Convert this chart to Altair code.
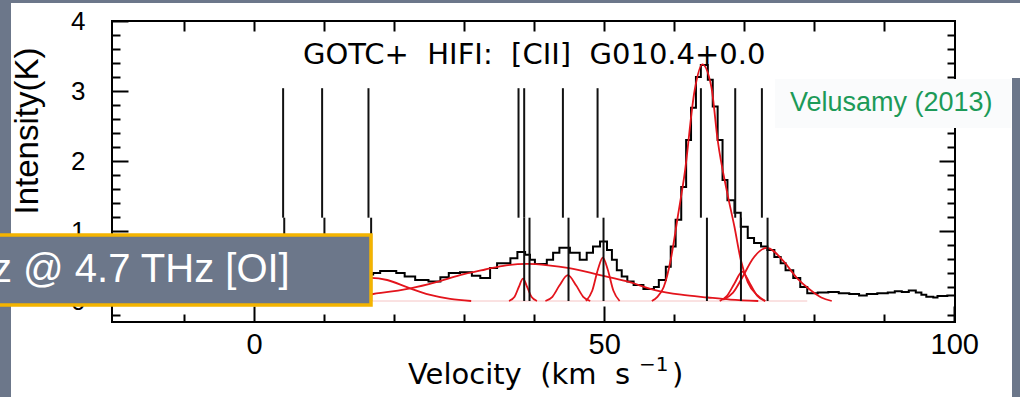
import altair as alt
import pandas as pd

# ---------------- data ----------------
# observed [CII] spectrum (left channel edges, km/s) and intensity (K)
spec_v = [14, 16, 17, 18, 20.3, 21.5, 23, 24.9, 26.6, 27.8, 29.4, 31.1, 32.3, 33.7, 34.7,
          36.6, 37.6, 38.7, 39.4, 40.1, 41.8, 42.7, 43.6, 45.1, 46.5, 47.5, 48.4, 49.4, 50.4, 51.1,
          51.8, 52.5, 53.3, 54.2, 55.6, 57.1, 57.8, 58.8, 59.5, 60.2, 61.0, 61.7, 62.4, 63.1, 63.8,
          64.8, 65.5, 66.2, 66.9, 67.6, 68.6, 69.5, 70.5, 71.4, 72.4, 73.3, 74.3, 75.2, 75.9, 77.0,
          78.0, 79.0, 80.5, 82, 83.5, 85, 86.4, 87.5, 89, 90.5, 91.5, 92.5, 93.5, 94.5, 95.3,
          96, 97, 97.6, 99, 100]
spec_val = [0.35, 0.38, 0.40, 0.43, 0.40, 0.35, 0.30, 0.28, 0.34, 0.40, 0.41, 0.36, 0.33, 0.47, 0.54,
            0.61, 0.70, 0.66, 0.59, 0.53, 0.59, 0.69, 0.76, 0.69, 0.59, 0.69, 0.78, 0.85, 0.73, 0.59,
            0.44, 0.35, 0.28, 0.23, 0.17, 0.20, 0.30, 0.49, 0.78, 1.16, 1.63, 2.30, 2.76, 3.20, 3.37,
            3.16, 2.78, 2.30, 1.73, 1.44, 1.26, 1.06, 0.90, 0.83, 0.78, 0.73, 0.63, 0.54, 0.44, 0.33,
            0.20, 0.11, 0.12, 0.13, 0.11, 0.10, 0.08, 0.10, 0.11, 0.12, 0.14, 0.13, 0.15, 0.12, 0.09,
            0.06, 0.05, 0.07, 0.08, 0.08]

compA_v = [8, 11, 14, 16.7, 19, 22, 25, 28, 31]
compA_val = [0.08, 0.17, 0.29, 0.33, 0.30, 0.19, 0.09, 0.03, 0.0]
compB_v = [8, 13, 17, 22.3, 26, 29.4, 33, 36, 39, 42, 45, 49.4, 53.3, 57.1, 61, 64.8, 68, 72]
compB_val = [0.02, 0.05, 0.10, 0.18, 0.27, 0.37, 0.45, 0.51, 0.53, 0.51, 0.47, 0.37, 0.28, 0.16,
             0.09, 0.05, 0.02, 0.0]
compC_v = [36.4, 37.2, 37.8, 38.4, 39.0, 39.6, 40.4]
compC_val = [0.0, 0.06, 0.20, 0.32, 0.20, 0.06, 0.0]
compD_v = [41.6, 42.6, 43.6, 44.8, 46.0, 47.0, 48.0]
compD_val = [0.0, 0.06, 0.22, 0.37, 0.22, 0.06, 0.0]
compE_v = [47.4, 48.3, 49.1, 49.8, 50.5, 51.3, 52.2]
compE_val = [0.0, 0.15, 0.45, 0.62, 0.45, 0.15, 0.0]
compF_v = [56.8, 57.6, 58.5, 59.5, 60.5, 61.5, 62.9, 64.0, 65.3, 66.2, 67.6, 68.6, 69.5, 70.5, 71.9, 73.0]
compF_val = [0.0, 0.06, 0.20, 0.59, 1.20, 1.83, 3.00, 3.38, 3.06, 2.30, 1.53, 1.06, 0.59, 0.27, 0.08, 0.0]
compG_v = [66.5, 67.5, 68.6, 69.7, 70.8, 71.9, 73.0]
compG_val = [0.0, 0.07, 0.25, 0.42, 0.25, 0.07, 0.0]
compH_v = [67.0, 68.4, 69.8, 71.2, 73.2, 75.6, 77.5, 79.4, 81.0, 82.5]
compH_val = [0.02, 0.12, 0.35, 0.60, 0.76, 0.57, 0.33, 0.16, 0.05, 0.0]
baseline_v = [16, 79]
baseline_val = [0.0, 0.0]

# velocity markers (upper and lower segments, slightly offset in the original)
top_line_v = [4.14, 9.71, 16.33, 37.76, 38.57, 44.1, 49.05, 63.81, 68.71, 72.52]
bot_line_v = [4.3, 10.04, 16.71, 38.57, 39.33, 44.9, 49.9, 64.67, 69.53, 73.33]
LINE_TOP = 3.04
LINE_SPLIT = 1.19

# axis ticks
x_major = [0, 50, 100]
x_minor = [-10, 10, 20, 30, 40, 60, 70, 80, 90]
x_top = [-10, 0, 10, 20, 30, 40, 50, 60, 70, 80, 90]
y_major = [0, 1, 2, 3, 4]
y_minor = [-0.2, 0.2, 0.4, 0.6, 0.8, 1.2, 1.4, 1.6, 1.8, 2.2, 2.4, 2.6, 2.8, 3.2, 3.4, 3.6, 3.8]
y_right_major = [1, 2, 3]

TITLE = "GOTC+\u00a0\u00a0HIFI:\u00a0\u00a0[CII]\u00a0\u00a0G010.4+0.0"
XTITLE_MAIN = "Velocity\u00a0\u00a0(km\u00a0\u00a0s"
XTITLE_SUP = "\u22121"
XTITLE_END = ")"
YTITLE = "Intensity(K)"
BOX_TEXT = "z @ 4.7 THz [OI]"
CREDIT = "Velusamy (2013)"

# ---------------- chart ----------------
W, H = 843, 301
OX, OY = 112, 21  # plot origin in page pixels
XS = alt.Scale(domain=[-20.3, 100.1], nice=False, zero=False)
YS = alt.Scale(domain=[-0.3, 4.0], nice=False, zero=False)
SLATE = "#6c778a"


def axis(orient, values, size, labels=False, pad=0, fs=12):
    kw = dict(orient=orient, values=values, tickSize=size, offset=-size, labels=labels,
              domain=False, grid=False, ticks=True, title=None, tickColor="black", tickWidth=2)
    if labels:
        kw.update(labelPadding=pad, labelFontSize=fs, labelFont="Liberation Sans",
                  labelColor="black", labelFlush=False, labelOverlap=False)
    return alt.Axis(**kw)


df_spec = pd.DataFrame({"v": spec_v, "val": spec_val})
comps = []
for name, vs, ys in [("A", compA_v, compA_val), ("B", compB_v, compB_val), ("C", compC_v, compC_val),
                     ("D", compD_v, compD_val), ("E", compE_v, compE_val), ("F", compF_v, compF_val),
                     ("G", compG_v, compG_val), ("H", compH_v, compH_val)]:
    comps.append(pd.DataFrame({"comp": name, "v": vs, "val": ys}))
df_comp = pd.concat(comps, ignore_index=True)
df_base = pd.DataFrame({"v": baseline_v, "val": baseline_val})
df_top = pd.DataFrame({"v": top_line_v, "y1": LINE_SPLIT, "y2": LINE_TOP})
df_bot = pd.DataFrame({"v": bot_line_v, "y1": 0.0, "y2": LINE_SPLIT})
one = pd.DataFrame({"k": [0]})


def prect(x1, x2, y1, y2, **style):
    return alt.Chart(one).mark_rect(**style).encode(
        x=alt.value(x1 - OX), x2=alt.value(x2 - OX), y=alt.value(y1 - OY), y2=alt.value(y2 - OY))


def ptext(txt, x, y, **style):
    return alt.Chart(pd.DataFrame({"t": [txt]})).mark_text(**style).encode(
        text="t:N", x=alt.value(x - OX), y=alt.value(y - OY))


strip_top = prect(0, 1020, 0, 3, color=SLATE)
strip_left = prect(0, 11, 0, 397, color=SLATE)
strip_right = prect(1012, 1020, 78, 397, color=SLATE)

base = alt.Chart(df_base).mark_line(color="#f5c4c4", strokeWidth=1).encode(
    x=alt.X("v:Q", scale=XS, axis=None), y=alt.Y("val:Q", scale=YS, axis=None))

spec = alt.Chart(df_spec).mark_line(interpolate="step-after", color="black", strokeWidth=2).encode(
    x=alt.X("v:Q", scale=XS, axis=axis("bottom", x_major, 16, True, 8, 29)),
    y=alt.Y("val:Q", scale=YS, axis=axis("left", y_major, 16, True, 27, 26)))

red = alt.Chart(df_comp).mark_line(interpolate="monotone", color="#e3141c", strokeWidth=1.8).encode(
    x=alt.X("v:Q", scale=XS, axis=axis("bottom", x_minor, 8)),
    y=alt.Y("val:Q", scale=YS, axis=axis("left", y_minor, 8)),
    detail="comp:N")

top_rules = alt.Chart(df_top).mark_rule(color="#111111", strokeWidth=2).encode(
    x=alt.X("v:Q", scale=XS, axis=axis("top", x_top, 10)),
    y=alt.Y("y1:Q", scale=YS, axis=axis("right", y_right_major, 16)),
    y2="y2:Q")

bot_rules = alt.Chart(df_bot).mark_rule(color="#111111", strokeWidth=2).encode(
    x=alt.X("v:Q", scale=XS, axis=None),
    y=alt.Y("y1:Q", scale=YS, axis=axis("right", y_minor, 8)),
    y2="y2:Q")

title = ptext(TITLE, 303, 55, align="left", baseline="middle", font="DejaVu Sans",
              fontSize=29, color="black")
xtitle = ptext(XTITLE_MAIN, 408, 384, align="left", baseline="alphabetic", font="DejaVu Sans",
               fontSize=29, color="black")
xtitle_sup = ptext(XTITLE_SUP, 639, 371, align="left", baseline="alphabetic", font="DejaVu Sans",
                   fontSize=20, color="black")
xtitle_end = ptext(XTITLE_END, 672, 384, align="left", baseline="alphabetic", font="DejaVu Sans",
                   fontSize=29, color="black")
ytitle = ptext(YTITLE, 28, 131, align="center", baseline="middle", angle=270,
               font="Liberation Sans", fontSize=33, color="black")

credit_bg = prect(775, 1011, 79, 128, color="#fafbfc")
credit = ptext(CREDIT, 790, 103, align="left", baseline="middle", font="Liberation Sans",
               fontSize=27, color="#1c9a58")

box = prect(-10, 371, 235, 305, fill=SLATE, stroke="#f4b400", strokeWidth=3.5)
box_text = ptext(BOX_TEXT, -8, 270, align="left", baseline="middle", font="Liberation Sans",
                 fontSize=40, color="white")

chart = alt.layer(
    strip_top, strip_left, strip_right, base, spec, red, top_rules, bot_rules,
    title, xtitle, xtitle_sup, xtitle_end, ytitle, credit_bg, credit, box, box_text
).resolve_axis(x="independent", y="independent").properties(
    width=W, height=H,
    padding={"left": OX, "top": OY, "right": 1020 - OX - W, "bottom": 397 - OY - H},
    autosize=alt.AutoSizeParams(type="none"),
    background="white",
).configure_view(stroke="black", strokeWidth=2)

chart.save("out.html", embed_options={"renderer": "svg", "actions": False})
